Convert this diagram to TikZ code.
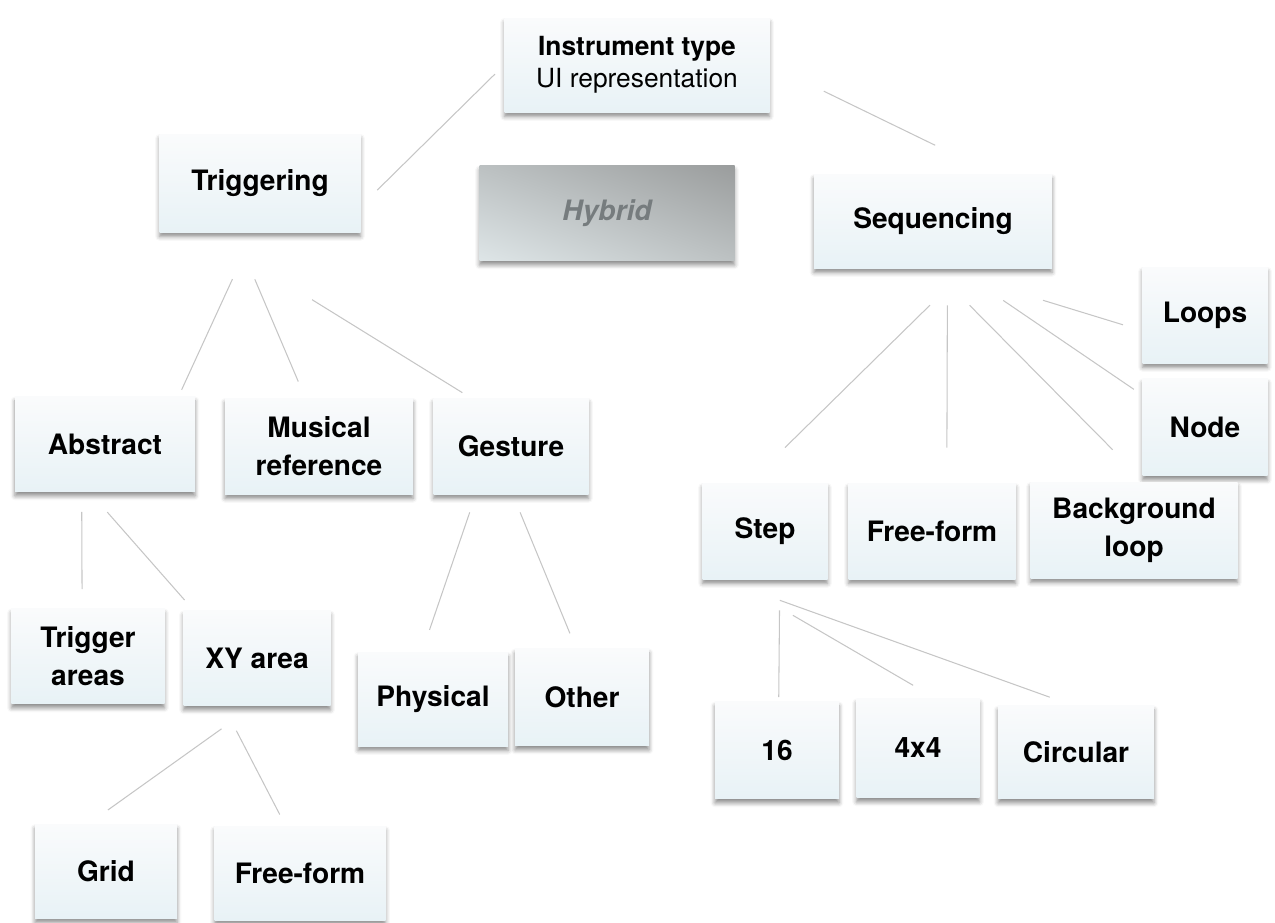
\documentclass[tikz,border=0pt]{standalone}
\usepackage{fontspec}
\setmainfont{TeX Gyre Heros}
\usepackage{xcolor}
\usepackage{tikz}
\usetikzlibrary{shadows.blur}

\definecolor{boxtop}{RGB}{250,251,252}
\definecolor{boxbottom}{RGB}{232,242,246}
\definecolor{linkgray}{RGB}{198,198,198}
\definecolor{hybridlight}{RGB}{230,238,240}
\definecolor{hybriddark}{RGB}{146,148,148}
\definecolor{hybridtext}{RGB}{118,124,126}

\pgfdeclareverticalshading{hybridshade}{100bp}{color(0bp)=(hybridlight); color(10bp)=(hybridlight); color(90bp)=(hybriddark); color(100bp)=(hybriddark)}

\begin{document}
\begin{tikzpicture}[
    font=\fontsize{16}{21.5}\selectfont,
    box/.style={rectangle, top color=boxtop, bottom color=boxbottom, minimum height=1.9cm, inner sep=2pt, align=center, font=\fontsize{16}{21.5}\selectfont\bfseries,
        blur shadow={shadow xshift=0pt, shadow yshift=-2.5pt, shadow blur radius=2.5pt, shadow opacity=45}},
    hybridbox/.style={rectangle, shading=hybridshade, shading angle=-20, minimum height=1.9cm, align=center,
        font=\fontsize{16}{21.5}\selectfont\bfseries\itshape, text=hybridtext,
        blur shadow={shadow xshift=0pt, shadow yshift=-2.5pt, shadow blur radius=2.5pt, shadow opacity=45}},
    link/.style={draw=linkgray, line width=0.6pt}
]
    \useasboundingbox (0,0) rectangle (25.5,-18.44);

    % Top level
    \node[box, minimum width=5.3cm, minimum height=1.88cm, font=\fontsize{15}{18.5}\selectfont] (root) at (12.74,-1.30) {\textbf{Instrument type}\\UI representation};
    \node[box, minimum width=4.02cm, minimum height=1.96cm] (trig) at (5.20,-3.66) {Triggering};
    \node[hybridbox, minimum width=5.1cm] (hybrid) at (12.14,-4.26) {Hybrid};
    \node[box, minimum width=4.76cm, minimum height=1.88cm] (seq) at (18.66,-4.42) {Sequencing};

    % Triggering branch
    \node[box, minimum width=3.6cm] (abstract) at (2.10,-8.88) {Abstract};
    \node[box, minimum width=3.76cm, minimum height=1.92cm] (musical) at (6.38,-8.92) {Musical\\reference};
    \node[box, minimum width=3.1cm, minimum height=1.92cm] (gesture) at (10.22,-8.92) {Gesture};
    \node[box, minimum width=3.06cm] (trigareas) at (1.76,-13.12) {Trigger\\areas};
    \node[box, minimum width=2.94cm] (xyarea) at (5.14,-13.16) {XY area};
    \node[box, minimum width=3.0cm, minimum height=1.88cm] (physical) at (8.66,-13.98) {Physical};
    \node[box, minimum width=2.68cm, minimum height=1.94cm] (other) at (11.64,-13.94) {Other};
    \node[box, minimum width=2.84cm, minimum height=1.88cm] (grid) at (2.12,-17.42) {Grid};
    \node[box, minimum width=3.42cm, minimum height=1.88cm] (ffxy) at (6.00,-17.46) {Free-form};

    % Sequencing branch
    \node[box, minimum width=2.5cm, minimum height=1.92cm] (loops) at (24.10,-6.30) {Loops};
    \node[box, minimum width=2.5cm, minimum height=1.94cm] (nd) at (24.10,-8.54) {Node};
    \node[box, minimum width=2.5cm, minimum height=1.92cm] (step) at (15.30,-10.62) {Step};
    \node[box, minimum width=3.34cm, minimum height=1.92cm] (ffseq) at (18.64,-10.62) {Free-form};
    \node[box, minimum width=4.14cm, minimum height=1.92cm] (bgloop) at (22.68,-10.60) {Background\\loop};
    \node[box, minimum width=2.48cm, minimum height=1.94cm] (n16) at (15.54,-15.00) {16};
    \node[box, minimum width=2.46cm, minimum height=1.98cm] (n4x4) at (18.36,-14.96) {4x4};
    \node[box, minimum width=3.12cm, minimum height=1.86cm] (circular) at (21.52,-15.04) {Circular};

    % Links
    \draw[link, shorten <=0.26cm, shorten >=0.46cm] (root.180) -- (trig.-13);
    \draw[link, shorten <=1.2cm, shorten >=1.3cm] (root.0) -- (seq.38);
    \draw[link, shorten <=1.03cm, shorten >=0.14cm] (trig.263) -- (abstract.33);
    \draw[link, shorten <=1.02cm, shorten >=0.35cm] (trig.-117) -- (musical.106);
    \draw[link, shorten <=2.56cm, shorten >=0.19cm] (trig.-139) -- (gesture.130);
    \draw[link, shorten <=0.4cm, shorten >=0.38cm] (abstract.-116) -- (trigareas.97);
    \draw[link, shorten <=0.54cm, shorten >=0.27cm] (abstract.-108) -- (xyarea.143);
    \draw[link, shorten <=0.79cm, shorten >=0.47cm] (xyarea.-94) -- (grid.110);
    \draw[link, shorten <=0.56cm, shorten >=0.25cm] (xyarea.-125) -- (ffxy.107);
    \draw[link, shorten <=0.38cm, shorten >=0.46cm] (gesture.-126) -- (physical.103);
    \draw[link, shorten <=0.39cm, shorten >=0.32cm] (gesture.-88) -- (other.97);
    \draw[link, shorten <=1.05cm, shorten >=1.0cm] (seq.-54) -- (step.108);
    \draw[link, shorten <=0.74cm, shorten >=0.7cm] (seq.-73) -- (ffseq.73);
    \draw[link, shorten <=1.04cm, shorten >=0.9cm] (seq.-90) -- (bgloop.78);
    \draw[link, shorten <=1.14cm, shorten >=0.2cm] (seq.-64) -- (nd.153);
    \draw[link, shorten <=2.18cm, shorten >=0.4cm] (seq.-83) -- (loops.194);
    \draw[link, shorten <=0.62cm, shorten >=0.08cm] (step.-73) -- (n16.88);
    \draw[link, shorten <=1.43cm, shorten >=0.51cm] (step.-125) -- (n4x4.71);
    \draw[link, shorten <=1.24cm, shorten >=0.47cm] (step.-132) -- (circular.95);
\end{tikzpicture}
\end{document}
